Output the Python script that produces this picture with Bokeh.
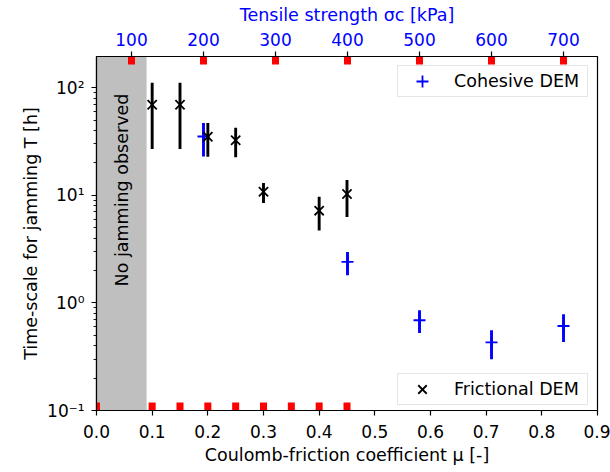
import math
from bokeh.plotting import figure
from bokeh.models import (Range1d, LinearAxis, FixedTicker, NumeralTickFormatter,
                          CustomJSTickFormatter, BoxAnnotation, Label, Legend, LegendItem)
from bokeh.embed import file_html
from bokeh.resources import INLINE

# ---------------- data ----------------
# Frictional DEM (x: Coulomb friction coefficient)
mu_fric = [0.10, 0.15, 0.20, 0.25, 0.30, 0.40, 0.45]
T_fric = [69.5, 69.5, 35.0, 32.5, 10.8, 7.2, 10.3]
T_fric_lo = [27.0, 27.0, 22.8, 22.6, 8.5, 4.7, 6.3]
T_fric_hi = [111.0, 111.0, 47.0, 42.5, 13.0, 9.7, 13.9]

# Cohesive DEM (x: tensile strength, top axis)
sigma_coh = [200, 400, 500, 600, 700]
T_coh = [35.2, 2.41, 0.69, 0.43, 0.61]
T_coh_lo = [23.0, 1.81, 0.525, 0.30, 0.434]
T_coh_hi = [47.0, 2.97, 0.855, 0.557, 0.785]

# simulated parameter values (red markers on the axes)
mu_sim = [0.0, 0.10, 0.15, 0.20, 0.25, 0.30, 0.35, 0.40, 0.45]
sigma_sim = [100, 200, 300, 400, 500, 600, 700]

# region without jamming
no_jam_lo, no_jam_hi = 0.0, 0.09

# axes
mu_min, mu_max = 0.0, 0.9
sigma_min, sigma_max = 51.4, 747.2
T_min, T_max = 0.1, 195.0
x_ticks = [0.0, 0.1, 0.2, 0.3, 0.4, 0.5, 0.6, 0.7, 0.8, 0.9]
sigma_ticks = [100, 200, 300, 400, 500, 600, 700]
y_ticks = [0.1, 1, 10, 100]
y_tick_labels = ["10\u207b\u00b9", "10\u2070", "10\u00b9", "10\u00b2"]
y_minor = [m * 10.0 ** e for e in (-1, 0, 1, 2) for m in range(2, 10)]

x_label = "Coulomb-friction coefficient \u03bc [-]"
y_label = "Time-scale for jamming T [h]"
top_label = "Tensile strength \u03c3c [kPa]"

FONT = "DejaVu Sans"
FS = "17.5px"
TFS = "17px"

p = figure(frame_width=501, frame_height=354,
           x_range=Range1d(mu_min, mu_max), y_range=Range1d(T_min, T_max),
           y_axis_type="log", output_backend="svg", toolbar_location=None,
           min_border_left=96, min_border_right=13, min_border_top=56, min_border_bottom=62)
p.extra_x_ranges = {"sigma": Range1d(sigma_min, sigma_max)}
p.grid.visible = False
p.outline_line_color = "black"
p.outline_line_width = 1.2
p.background_fill_color = "white"
p.border_fill_color = "white"

top_axis = LinearAxis(x_range_name="sigma")
p.add_layout(top_axis, "above")

bx = p.below[0]
bx.ticker = FixedTicker(ticks=x_ticks)
bx.formatter = NumeralTickFormatter(format="0.0")
bx.axis_label = x_label
bx.major_label_standoff = 9
bx.axis_label_standoff = 4

ly = p.left[0]
ly.ticker = FixedTicker(ticks=y_ticks, minor_ticks=y_minor)
ly.formatter = CustomJSTickFormatter(args=dict(vals=y_ticks, labels=y_tick_labels), code="""
    for (let i = 0; i < vals.length; i++) {
        if (Math.abs(Math.log10(vals[i]) - Math.log10(tick)) < 1e-6) return labels[i];
    }
    return "";
""")
ly.minor_tick_out = 3
ly.minor_tick_in = 0
ly.minor_tick_line_width = 0.9
ly.axis_label = y_label
ly.major_label_standoff = 7
ly.axis_label_standoff = 3

top_axis.ticker = FixedTicker(ticks=sigma_ticks)
top_axis.major_label_text_color = "blue"
top_axis.axis_label = top_label
top_axis.axis_label_text_color = "blue"
top_axis.major_label_standoff = 6
top_axis.axis_label_standoff = 5

for ax in (bx, ly, top_axis):
    ax.major_tick_out = 5
    ax.major_tick_in = 0
    ax.major_tick_line_width = 1.2
    ax.major_tick_line_color = "black"
    ax.axis_line_color = "black"
    ax.axis_line_width = 1.2
    ax.major_label_text_font = FONT
    ax.major_label_text_font_size = TFS
    ax.axis_label_text_font = FONT
    ax.axis_label_text_font_size = FS
    ax.axis_label_text_font_style = "normal"
bx.major_label_text_color = "black"
ly.major_label_text_color = "black"
bx.axis_label_text_color = "black"
ly.axis_label_text_color = "black"

# grey region
p.add_layout(BoxAnnotation(left=no_jam_lo, right=no_jam_hi, fill_color="#bfbfbf",
                           fill_alpha=1.0, line_alpha=0, level="underlay"))

# red markers on the axes
p.rect(x=mu_sim, y=[T_min] * len(mu_sim), width=7, height=16, width_units="screen",
       height_units="screen", fill_color="#ff0000", line_color=None)
p.rect(x=sigma_sim, y=[T_max] * len(sigma_sim), width=7, height=16, width_units="screen",
       height_units="screen", fill_color="#ff0000", line_color=None, x_range_name="sigma")

# cohesive DEM
p.segment(x0=sigma_coh, y0=T_coh_lo, x1=sigma_coh, y1=T_coh_hi, line_color="blue",
          line_width=2.9, x_range_name="sigma")
coh = p.scatter(x=sigma_coh, y=T_coh, marker="cross", size=12, line_color="blue",
                line_width=1.8, x_range_name="sigma")

# frictional DEM
p.segment(x0=mu_fric, y0=T_fric_lo, x1=mu_fric, y1=T_fric_hi, line_color="black", line_width=2.9)
fric = p.scatter(x=mu_fric, y=T_fric, marker="x", size=13, line_color="black", line_width=1.8)

# legends
common = dict(label_text_font=FONT, label_text_font_size=FS, label_text_color="black",
              border_line_color="#cccccc", border_line_width=1.2,
              background_fill_alpha=0.8, padding=0,
              glyph_width=48, glyph_height=30, label_standoff=8, label_width=133)
p.add_layout(Legend(items=[LegendItem(label="Cohesive DEM", renderers=[coh])],
                    location="top_right", margin=9, **common))
p.add_layout(Legend(items=[LegendItem(label="Frictional DEM", renderers=[fric])],
                    location=(301, 5), margin=0, **common))

# text in grey region
p.add_layout(Label(x=(no_jam_lo + no_jam_hi) / 2, y=11.2, text="No jamming observed",
                   angle=math.pi / 2, text_align="center", text_baseline="middle",
                   text_font=FONT, text_font_size=FS, text_color="black"))

open("out.html", "w").write(file_html(p, INLINE))
